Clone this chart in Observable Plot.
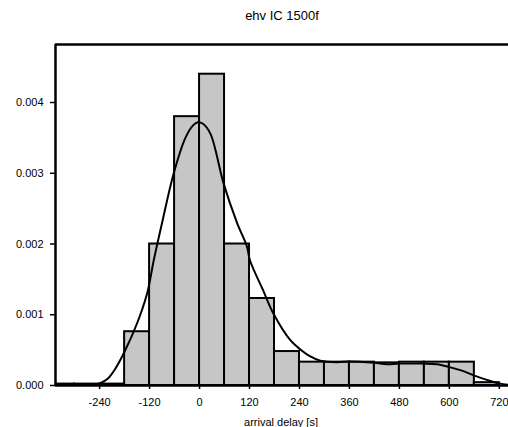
<!DOCTYPE html>
<html>
<head>
<meta charset="utf-8">
<script src="https://cdn.jsdelivr.net/npm/d3@7"></script>
<script src="https://cdn.jsdelivr.net/npm/@observablehq/plot@0.6"></script>
<style>
  html, body { margin: 0; padding: 0; background: #fff; overflow: hidden; }
  svg { display: block; }
</style>
</head>
<body>
<div id="chart"></div>
<script>
const title = "ehv IC 1500f";
const xLabel = "arrival delay [s]";

// histogram bins (start of each 60 s bin) and density heights
const binStart = [-360, -300, -240, -180, -120, -60, 0, 60, 120, 180, 240, 300, 360, 420, 480, 540, 600, 660];
const binDensity = [0.00002, 0.00002, 0.00002, 0.00076, 0.0020, 0.0038, 0.0044, 0.0020, 0.00123, 0.00048, 0.00033, 0.00033, 0.00033, 0.00032, 0.00033, 0.00033, 0.00033, 0.00004];
const binWidth = 60;

// fitted density curve
const curveX = [-345, -280, -260, -240, -220, -200, -180, -150, -126, -110, -90, -62, -34, -15, -4, 8, 26, 58, 90, 114, 121, 153, 178, 218, 240, 266, 290, 330, 360, 420, 450, 480, 540, 570, 600, 630, 660, 690, 720, 742];
const curveY = [0, 0, 0.000005, 0.00003, 0.0001, 0.00026, 0.00048, 0.00088, 0.0013, 0.00177, 0.0023, 0.0030, 0.0035, 0.00368, 0.00372, 0.0037, 0.00356, 0.00285, 0.0023, 0.00196, 0.00177, 0.00134, 0.00101, 0.00064, 0.00052, 0.00041, 0.00035, 0.00033, 0.00034, 0.00032, 0.0003, 0.00031, 0.00031, 0.0003, 0.00026, 0.00021, 0.00014, 0.00008, 0.00003, 0.00001];

const xTicks = [-240, -120, 0, 120, 240, 360, 480, 600, 720];
const yTicks = [0, 0.001, 0.002, 0.003, 0.004];
const xDomain = [-346, 742];
const yDomain = [0, 0.00482];

const bars = binStart.map((s, i) => ({x1: s, x2: s + binWidth, y: binDensity[i]}));
const curve = curveX.map((x, i) => ({x, y: curveY[i]}));

const font = "'Liberation Sans', Arial, sans-serif";

const chart = Plot.plot({
  width: 508,
  height: 427,
  marginLeft: 55,
  marginRight: 0,
  marginTop: 44,
  marginBottom: 42,
  style: {fontFamily: font, fontSize: "11px", background: "#fff", color: "#000"},
  x: {domain: xDomain},
  y: {domain: yDomain},
  marks: [
    Plot.rectY(bars, {x1: "x1", x2: "x2", y: "y", fill: "#c6c6c6", stroke: "#000", strokeWidth: 2, clip: true}),
    Plot.line(curve, {x: "x", y: "y", stroke: "#000", strokeWidth: 2, curve: "catmull-rom", clip: true}),
    Plot.ruleX([xDomain[0]], {stroke: "#000", strokeWidth: 2.5}),
    Plot.ruleY([yDomain[1]], {stroke: "#000", strokeWidth: 2.5}),
    Plot.ruleY([0], {stroke: "#000", strokeWidth: 2.5}),
    Plot.axisY(yTicks, {tickSize: 5, tickPadding: 7, tickFormat: d3.format(".3f"), label: null, strokeWidth: 1.5, fontSize: 11}),
    Plot.axisX(xTicks, {tickSize: 4, tickPadding: 9, tickFormat: d => d, label: null, strokeWidth: 1.5, fontSize: 11}),
    Plot.text([title], {frameAnchor: "top", dy: -29, text: d => d, fontSize: 13, lineAnchor: "middle"}),
    Plot.text([xLabel], {frameAnchor: "bottom", dy: 37, dx: -1, text: d => d, fontSize: 11, lineAnchor: "middle"})
  ]
});
document.getElementById("chart").appendChild(chart);
</script>
</body>
</html>
